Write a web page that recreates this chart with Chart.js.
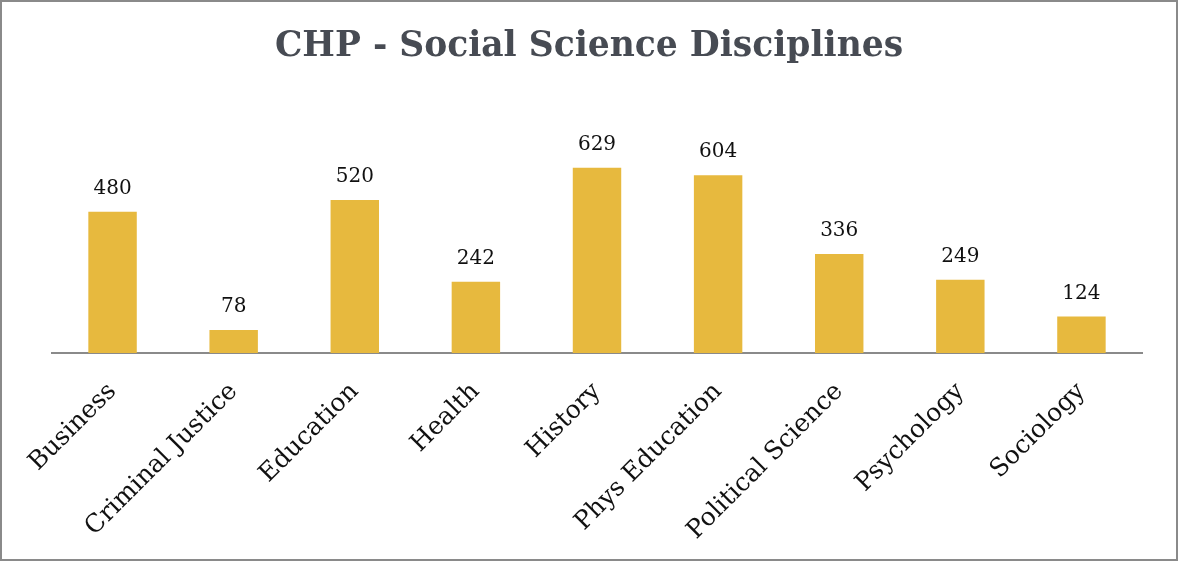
<!DOCTYPE html>
<html>
<head>
<meta charset="utf-8">
<script src="https://cdn.jsdelivr.net/npm/chart.js@4.4.1/dist/chart.umd.min.js"></script>
<style>
  html, body { margin: 0; padding: 0; background: #fff; }
  #wrap {
    width: 1178px; height: 561px; box-sizing: border-box;
    border: 2px solid #8a8a8a; background: #fff;
  }
</style>
</head>
<body>
<div id="wrap"><canvas id="chart" width="1174" height="557"></canvas></div>
<script>
const categories = ["Business", "Criminal Justice", "Education", "Health", "History",
                    "Phys Education", "Political Science", "Psychology", "Sociology"];
const counts = [480, 78, 520, 242, 629, 604, 336, 249, 124];

const serif = "'DejaVu Serif', serif";

// draws the number above each bar
const valueLabels = {
    id: "valueLabels",
    afterDatasetsDraw(chart) {
        const ctx = chart.ctx;
        const meta = chart.getDatasetMeta(0);
        ctx.save();
        ctx.font = "20px " + serif;
        ctx.fillStyle = "#111";
        ctx.textAlign = "center";
        ctx.textBaseline = "bottom";
        meta.data.forEach((bar, i) => {
            ctx.fillText(counts[i], bar.x, bar.y - 13);
        });
        ctx.restore();
    }
};

new Chart(document.getElementById("chart"), {
    type: "bar",
    data: {
        labels: categories,
        datasets: [{
            data: counts,
            backgroundColor: "#E7B93E",
            barPercentage: 0.8,
            categoryPercentage: 0.5
        }]
    },
    options: {
        responsive: false,
        animation: false,
        layout: { padding: { left: 34, right: 34, top: 0, bottom: 0 } },
        plugins: {
            legend: { display: false },
            tooltip: { enabled: false },
            title: {
                display: true,
                text: "CHP - Social Science Disciplines",
                color: "#474b53",
                font: { family: serif, size: 34.5, weight: "bold", lineHeight: 1.2 },
                padding: { top: 24, bottom: 16 }
            }
        },
        scales: {
            x: {
                grid: { display: false, drawTicks: false },
                border: { color: "#8a8a8a", width: 2 },
                ticks: {
                    color: "#111",
                    font: { family: serif, size: 25 },
                    minRotation: 45,
                    maxRotation: 45,
                    padding: 24
                },
                afterFit(scale) {
                    scale.height = 206;
                    scale.paddingLeft = 0;
                    scale.paddingRight = 0;
                }
            },
            y: {
                min: 0,
                max: 916,
                grid: { display: false, drawTicks: false },
                border: { display: false },
                ticks: { display: false },
                afterFit(scale) {
                    // hidden axis, only keeps the plot offset from the left edge
                    scale.width = 16;
                }
            }
        }
    },
    plugins: [valueLabels]
});
</script>
</body>
</html>
